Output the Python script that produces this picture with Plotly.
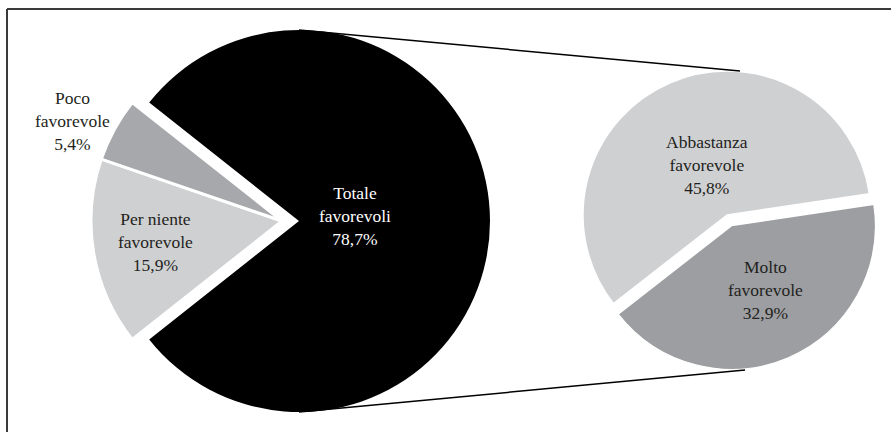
import plotly.graph_objects as go

# ---- data ----
main_labels = ["Totale favorevoli", "Per niente favorevole", "Poco favorevole"]
main_values = [78.7, 15.9, 5.4]
sub_labels = ["Abbastanza favorevole", "Molto favorevole"]
sub_values = [45.8, 32.9]

# display text (line breaks) for each category
main_text = ["Totale<br>favorevoli", "Per niente<br>favorevole", "Poco<br>favorevole"]
sub_text = ["Abbastanza<br>favorevole", "Molto<br>favorevole"]

W, H = 891, 432
FONT = "Liberation Serif"


def fmt(v):
    return f"{v:.1f}".replace(".", ",") + "%"


def px_dom(cx, cy, half):
    return dict(x=[(cx - half) / W, (cx + half) / W],
                y=[1 - (cy + half) / H, 1 - (cy - half) / H])


TRANSP = "rgba(0,0,0,0)"
BLACK = "#000000"
LIGHT = "#cfd0d2"
MID = "#a7a8ab"
DARK = "#9c9ea1"

# main pie geometry
c1x, c1y, r1 = 299, 221, 191
shift = 17
black_frac = main_values[0] / sum(main_values)
rot1 = 90 - 360 * black_frac / 2

# sub pie geometry
c2x, c2y, r2 = 727, 215, 144
pull2 = 0.08

fig = go.Figure()

# black slice (others transparent)
fig.add_trace(go.Pie(
    labels=main_labels, values=main_values, sort=False, direction="clockwise",
    rotation=rot1, textinfo="none", hoverinfo="label+value",
    marker=dict(colors=[BLACK, TRANSP, TRANSP],
                line=dict(color=["white", TRANSP, TRANSP], width=[0, 0, 0])),
    domain=px_dom(c1x, c1y, r1), showlegend=False,
))
# gray slices shifted left together
fig.add_trace(go.Pie(
    labels=main_labels, values=main_values, sort=False, direction="clockwise",
    rotation=rot1, textinfo="none", hoverinfo="label+value",
    marker=dict(colors=[TRANSP, LIGHT, MID],
                line=dict(color=[TRANSP, "white", "white"], width=[0, 3, 3])),
    domain=px_dom(c1x - shift, c1y, r1), showlegend=False,
))
# second pie
fig.add_trace(go.Pie(
    labels=sub_labels, values=sub_values, sort=False, direction="clockwise",
    rotation=-128, textinfo="none", hoverinfo="label+value",
    pull=[0, pull2],
    marker=dict(colors=[LIGHT, DARK], line=dict(color="white", width=1.5)),
    domain=px_dom(c2x, c2y, r2 * (1 + pull2)), showlegend=False,
))

# labels
lab_pos_main = [(355, 216), (155, 242), (72, 121)]
lab_col_main = ["white", "#231f20", "#231f20"]
for t, v, (x, y), col in zip(main_text, main_values, lab_pos_main, lab_col_main):
    fig.add_annotation(x=x / W, y=1 - y / H, xref="paper", yref="paper",
                       text=f"{t}<br>{fmt(v)}", showarrow=False,
                       xanchor="center", yanchor="middle",
                       font=dict(family=FONT, size=17.5, color=col))
lab_pos_sub = [(707, 165), (765, 290)]
for t, v, (x, y) in zip(sub_text, sub_values, lab_pos_sub):
    fig.add_annotation(x=x / W, y=1 - y / H, xref="paper", yref="paper",
                       text=f"{t}<br>{fmt(v)}", showarrow=False,
                       xanchor="center", yanchor="middle",
                       font=dict(family=FONT, size=17.5, color="#231f20"))

# connector lines (top and bottom of main pie to second pie)
for (xa, ya), (xb, yb) in [((c1x, c1y - r1), (740, 71)), ((c1x, c1y + r1), (745, 370))]:
    fig.add_shape(type="line", xref="paper", yref="paper",
                  x0=xa / W, y0=1 - ya / H, x1=xb / W, y1=1 - yb / H,
                  line=dict(color="black", width=1.5))

# frame (only top and left edges visible)
fig.add_shape(type="line", xref="paper", yref="paper",
              x0=7 / W, y0=1 - 9 / H, x1=1.0, y1=1 - 9 / H,
              line=dict(color="#3a3a3a", width=2))
fig.add_shape(type="line", xref="paper", yref="paper",
              x0=7 / W, y0=1 - 9 / H, x1=7 / W, y1=0.0,
              line=dict(color="#3a3a3a", width=2))

fig.update_layout(width=W, height=H, margin=dict(l=0, r=0, t=0, b=0),
                  paper_bgcolor="white", plot_bgcolor="white",
                  font=dict(family=FONT))

fig.write_html("out.html")
